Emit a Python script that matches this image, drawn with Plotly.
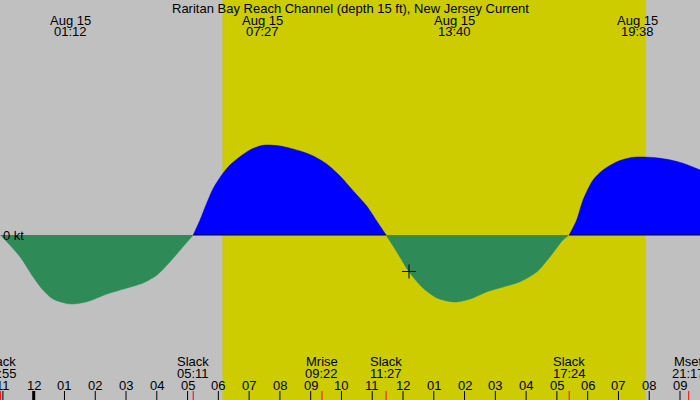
import plotly.graph_objects as go

# current speed (kt), hours from midnight Aug 15
hours = [-1.083, -0.445, -0.023, 0.302, 0.627, 1.2, 1.732, 2.382, 3.032, 3.552,
         4.007, 4.43, 4.852, 5.183,
         5.404, 5.621, 5.836, 6.109, 6.378, 6.703, 7.028, 7.45, 8.003, 8.653,
         9.085, 9.52, 9.953, 10.385, 10.82, 11.145, 11.45,
         11.795, 12.195, 12.65, 13.105, 13.667, 14.177, 14.729, 15.249, 15.801,
         16.353, 16.776, 17.198, 17.4,
         17.644, 17.85, 18.175, 18.5, 18.955, 19.475, 20.027, 20.579, 21.099,
         21.651, 21.75]
speed = [0, -0.217, -0.417, -0.55, -0.64, -0.69, -0.667, -0.59, -0.53, -0.48,
         -0.40, -0.267, -0.117, 0,
         0.15, 0.317, 0.467, 0.60, 0.70, 0.783, 0.85, 0.897, 0.89, 0.84,
         0.79, 0.71, 0.59, 0.44, 0.29, 0.14, 0,
         -0.167, -0.367, -0.53, -0.63, -0.67, -0.64, -0.567, -0.52, -0.467,
         -0.367, -0.217, -0.05, 0,
         0.15, 0.35, 0.55, 0.65, 0.733, 0.777, 0.777, 0.757, 0.717,
         0.65, 0.635]

# max / min flow labels along the top
peak_times = ["01:12", "07:27", "13:40", "19:38"]
peak_date = "Aug 15"

# events along the bottom
event_names = ["Slack", "Slack", "Mrise", "Slack", "Slack", "Mset"]
event_times = ["22:55", "05:11", "09:22", "11:27", "17:24", "21:17"]
event_day = [-1, 0, 0, 0, 0, 0]

hour_ticks = list(range(-1, 22))
hour_labels = ["11", "12", "01", "02", "03", "04", "05", "06", "07", "08", "09",
               "10", "11", "12", "01", "02", "03", "04", "05", "06", "07", "08",
               "09"]

sunrise = "06:08"
sunset = "19:53"
now_hour = 12.195
now_speed = -0.365


def to_hours(t, day=0):
    hh, mm = t.split(":")
    return int(hh) + int(mm) / 60 + 24 * day


def px_to_paper(p):
    return 1 - p / 400.0


GRAY = "#c0c0c0"
YELLOW = "#cccc00"
FONT = dict(family="Liberation Sans, Arial, sans-serif", size=13, color="black")

fig = go.Figure()

# split the curve into flood / ebb pieces at each slack
segments = []
cur_x, cur_y = [hours[0]], [speed[0]]
for h, s in zip(hours[1:], speed[1:]):
    cur_x.append(h)
    cur_y.append(s)
    if s == 0:
        segments.append((cur_x, cur_y))
        cur_x, cur_y = [h], [s]
if len(cur_x) > 1:
    segments.append((cur_x, cur_y))

for xs, ys in segments:
    flood = max(ys) > 0
    col = "#0000ff" if flood else "#2e8b57"
    fig.add_trace(go.Scatter(x=xs, y=ys, mode="lines", fill="tozeroy",
                             fillcolor=col, line=dict(color=col, width=0.5,
                                                      shape="spline", smoothing=0.8),
                             hoverinfo="skip", showlegend=False))
    if flood:
        fig.add_trace(go.Scatter(x=[xs[0], xs[-1]], y=[0, 0], mode="lines",
                                 line=dict(color="black", width=1),
                                 hoverinfo="skip", showlegend=False))

fig.add_trace(go.Scatter(x=[now_hour], y=[now_speed], mode="markers",
                         marker=dict(symbol="cross-thin", size=10,
                                     line=dict(color="black", width=1)),
                         hoverinfo="skip", showlegend=False))

# daylight band
fig.add_shape(type="rect", xref="x", yref="paper", x0=to_hours(sunrise),
              x1=to_hours(sunset), y0=0, y1=1, fillcolor=YELLOW,
              line_width=0, layer="below")

# hour ticks
for h in hour_ticks:
    fig.add_shape(type="line", xref="x", yref="paper", x0=h, x1=h,
                  y0=0, y1=px_to_paper(391),
                  line=dict(color="black", width=3 if h == 0 else 1))
for h, lab in zip(hour_ticks, hour_labels):
    fig.add_annotation(x=h, y=px_to_paper(385.5), xref="x", yref="paper",
                       text=lab, showarrow=False, font=FONT,
                       xanchor="center", yanchor="middle")

# events
for name, t, d in zip(event_names, event_times, event_day):
    h = to_hours(t, d)
    fig.add_shape(type="line", xref="x", yref="paper", x0=h, x1=h,
                  y0=0, y1=px_to_paper(391), line=dict(color="red", width=1))
    fig.add_annotation(x=h, y=px_to_paper(361.5), xref="x", yref="paper",
                       text=name, showarrow=False, font=FONT,
                       xanchor="center", yanchor="middle")
    fig.add_annotation(x=h, y=px_to_paper(373.5), xref="x", yref="paper",
                       text=t, showarrow=False, font=FONT,
                       xanchor="center", yanchor="middle")

# max / min labels
for t in peak_times:
    h = to_hours(t)
    fig.add_annotation(x=h, y=px_to_paper(20), xref="x", yref="paper",
                       text=peak_date, showarrow=False, font=FONT,
                       xanchor="center", yanchor="middle")
    fig.add_annotation(x=h, y=px_to_paper(31.5), xref="x", yref="paper",
                       text=t, showarrow=False, font=FONT,
                       xanchor="center", yanchor="middle")

fig.add_annotation(x=0.5, y=px_to_paper(8), xref="paper", yref="paper",
                   text="Raritan Bay Reach Channel (depth 15 ft), New Jersey Current",
                   showarrow=False, font=FONT, xanchor="center", yanchor="middle")
fig.add_annotation(x=0, y=0, xref="paper", yref="y", xshift=1, text="0 kt",
                   showarrow=False, font=FONT, xanchor="left", yanchor="middle")

fig.update_layout(width=700, height=400, margin=dict(l=0, r=0, t=0, b=0),
                  paper_bgcolor=GRAY, plot_bgcolor=GRAY)
fig.update_xaxes(range=[-1.095, 21.65], showgrid=False, zeroline=False,
                 showticklabels=False, ticks="")
fig.update_yaxes(range=[-1.65, 2.35], showgrid=False, zeroline=False,
                 showticklabels=False, ticks="")

# page body has an 8px default margin; drop it so the chart fills the window
fig.write_html("out.html", config={"displayModeBar": False},
               post_script="document.body.style.margin='0';")
